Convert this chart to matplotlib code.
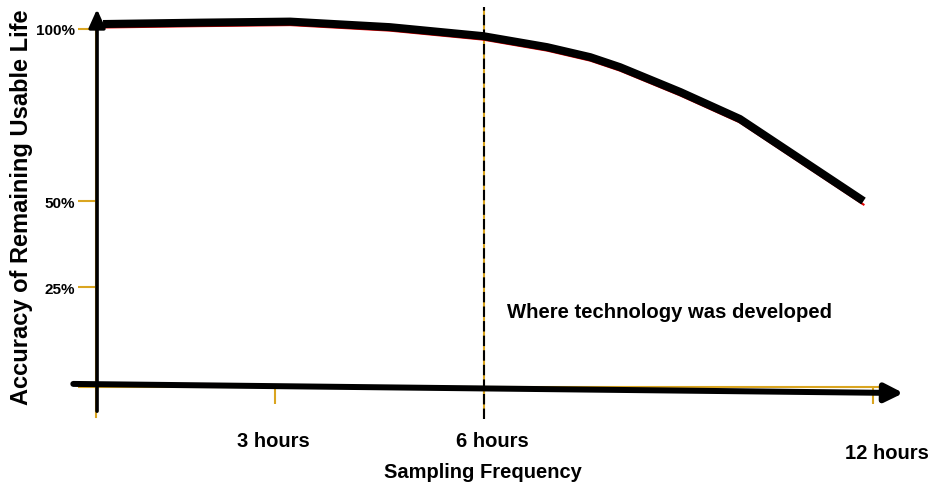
import matplotlib
matplotlib.use("Agg")
import matplotlib.pyplot as plt
from matplotlib.transforms import ScaledTranslation, offset_copy

# curve (x in axis position units, y in %)
positions = [0.09, 1.33, 2.48, 3.75, 4.94, 5.76, 6.31, 6.69, 7.46, 8.22, 8.99, 9.80]
accuracy = [101.3, 101.7, 102.0, 100.4, 97.8, 94.6, 91.7, 88.8, 81.6, 73.8, 62.2, 50.0]

tick_pos = [2.29, 4.96, 9.92]
tick_labels = ["3 hours", "6 hours", "12 hours"]
ytick_vals = [-3.9, 25, 50, 100]
ytick_labels = ["", "25%", "50%", "100%"]
developed_at = 4.955
note = "Where technology was developed"

gold = "#DAA520"

plt.rcParams["font.family"] = ["Liberation Sans", "DejaVu Sans"]
plt.rcParams["font.weight"] = "bold"

fig = plt.figure(figsize=(9.33, 4.89), dpi=100)
ax = fig.add_axes([0.1029, 0.2065, 0.8478, 0.7628])
ax.set_xlim(0, 10.1)
ax.set_ylim(-3.9, 104.2)

# thin red line peeking out under the thick black one
red_tr = offset_copy(ax.transData, fig=fig, y=-3.5, units="dots")
ax.plot(positions, accuracy, color="#e00000", lw=1.5, transform=red_tr, zorder=3)
ax.plot(positions, accuracy, color="black", lw=5.8, solid_capstyle="butt",
        solid_joinstyle="round", zorder=4)

# gold axes underneath
for s in ["top", "right"]:
    ax.spines[s].set_visible(False)
ax.spines["left"].set_color(gold)
ax.spines["left"].set_linewidth(1.5)
ax.spines["left"].set_bounds(-12.5, 100)
ax.spines["bottom"].set_color(gold)
ax.spines["bottom"].set_linewidth(1.5)

ax.set_yticks(ytick_vals)
ax.set_yticklabels(ytick_labels)
ax.tick_params(axis="y", direction="out", length=13, width=1.5, color=gold,
               labelcolor="black", labelsize=11, pad=2)
ax.set_xticks(tick_pos)
ax.set_xticklabels(tick_labels)
ax.tick_params(axis="x", direction="out", length=12.5, width=1.5, color=gold,
               labelcolor="black", labelsize=14.5, pad=19)

# nudge tick labels like the original
for lbl, (dx, dy) in zip(ax.get_xticklabels(), [(-2, 0), (8, 0), (14, -12)]):
    lbl.set_transform(lbl.get_transform() + ScaledTranslation(dx / 100, dy / 100, fig.dpi_scale_trans))

ax.set_xlabel("Sampling Frequency", fontsize=14.5, fontweight="bold")
ax.xaxis.set_label_coords(0.489, -0.2)
ax.set_ylabel("Accuracy of Remaining Usable Life", fontsize=17, fontweight="bold")
ax.yaxis.set_label_coords(-0.08, 0.485)

# black arrows over the axes
ax.annotate("", xy=(10.31, -5.65), xytext=(-0.29, -3.0), annotation_clip=False,
            arrowprops=dict(arrowstyle="-|>,head_length=0.9,head_width=0.45", color="black",
                            lw=4.3, shrinkA=0, shrinkB=0, mutation_scale=12), zorder=5)
ax.annotate("", xy=(0.013, 105.6), xytext=(0.013, -10.9), annotation_clip=False,
            arrowprops=dict(arrowstyle="-|>,head_length=1.0,head_width=0.45", color="black",
                            lw=2.6, shrinkA=0, shrinkB=0, mutation_scale=11), zorder=5)

# dashed marker at 6 hours
ax.vlines(developed_at, -13.2, 106.2, color=gold, lw=1.5, clip_on=False, zorder=2)
ax.vlines(developed_at, -13.2, 106.2, color="black", lw=1.5, linestyles=(0, (5, 2)),
          clip_on=False, zorder=2)

ax.text(5.25, 18.1, note, fontsize=14.6, fontweight="bold", va="center", ha="left")

fig.savefig("out.png", dpi=100)
